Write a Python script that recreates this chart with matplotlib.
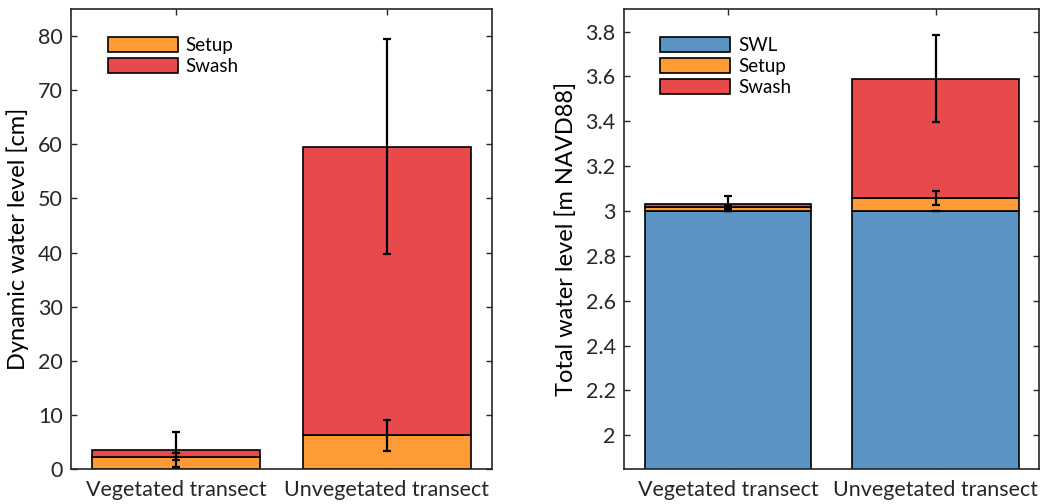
import matplotlib
matplotlib.use('Agg')
import matplotlib.pyplot as plt
import numpy as np

plt.rcParams['font.family'] = ['Lato', 'DejaVu Sans']

# Data
categories = ['Vegetated transect', 'Unvegetated transect']

# left panel: dynamic water level [cm]
setup_cm = [2.3, 6.2]
setup_cm_err = [0.6, 2.8]
swash_cm = [1.3, 53.4]
swash_cm_err = [3.3, 19.8]

# right panel: total water level [m NAVD88]
swl_m = [3.0, 3.0]
swl_m_err = [0.0, 0.0]
setup_m = [0.016, 0.057]
setup_m_err = [0.006, 0.03]
swash_m = [0.017, 0.533]
swash_m_err = [0.033, 0.195]

blue = '#5b93c3'
orange = '#fe9b34'
red = '#e8494b'
axcol = '#262626'

fig = plt.figure(figsize=(10.45, 5.04), dpi=100)
ax1 = fig.add_axes([0.0679, 0.0694, 0.4029, 0.9126])
ax2 = fig.add_axes([0.5971, 0.0694, 0.3976, 0.9126])

x = np.arange(1, len(categories) + 1)
w = 0.8
bkw = dict(width=w, edgecolor='black', linewidth=1.2, zorder=2)
ekw = dict(fmt='none', ecolor='black', elinewidth=1.6, capsize=3, capthick=1.6, zorder=3)

# Left panel
setup_cm = np.array(setup_cm)
swash_cm = np.array(swash_cm)
ax1.bar(x, setup_cm, color=orange, label='Setup', **bkw)
ax1.bar(x, swash_cm, bottom=setup_cm, color=red, label='Swash', **bkw)
ax1.errorbar(x, setup_cm, yerr=setup_cm_err, **ekw)
ax1.errorbar(x, setup_cm + swash_cm, yerr=swash_cm_err, **ekw)
ax1.set_ylim(0, 85)
ax1.set_yticks(np.arange(0, 81, 10))
ax1.set_ylabel('Dynamic water level [cm]', fontsize=17, labelpad=6)

# Right panel
swl_m = np.array(swl_m)
setup_m = np.array(setup_m)
swash_m = np.array(swash_m)
ax2.bar(x, swl_m, color=blue, label='SWL', **bkw)
ax2.bar(x, setup_m, bottom=swl_m, color=orange, label='Setup', **bkw)
ax2.bar(x, swash_m, bottom=swl_m + setup_m, color=red, label='Swash', **bkw)
ax2.errorbar(x, swl_m, yerr=swl_m_err, **ekw)
ax2.errorbar(x, swl_m + setup_m, yerr=setup_m_err, **ekw)
ax2.errorbar(x, swl_m + setup_m + swash_m, yerr=swash_m_err, **ekw)
ax2.set_ylim(1.85, 3.9)
ax2.set_yticks(np.arange(2, 3.81, 0.2))
ax2.set_yticklabels(['2', '2.2', '2.4', '2.6', '2.8', '3', '3.2', '3.4', '3.6', '3.8'])
ax2.set_ylabel('Total water level [m NAVD88]', fontsize=17, labelpad=6)

for ax in (ax1, ax2):
    ax.set_xlim(0.5, 2.5)
    ax.set_xticks(x)
    ax.set_xticklabels(categories)
    ax.tick_params(direction='in', length=4, width=1.0, color=axcol,
                   top=True, right=True, labelsize=15.5, labelcolor='#262626', pad=6)
    ax.tick_params(axis='x', pad=8)
    for s in ax.spines.values():
        s.set_color(axcol)
        s.set_linewidth(1.2)
        s.set_zorder(4)
    ax.legend(loc='upper left', bbox_to_anchor=(0.087, 0.94), frameon=False,
              fontsize=13.5, handlelength=3.75, handleheight=0.85,
              labelspacing=0.22, handletextpad=0.4, borderpad=0, borderaxespad=0)

fig.savefig('out.png', dpi=100)
